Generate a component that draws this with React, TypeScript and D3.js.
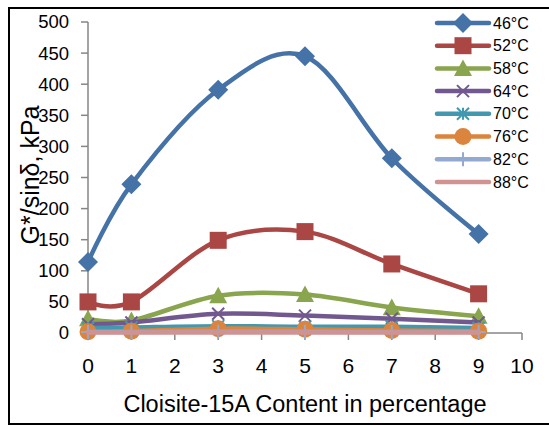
import React from "react";
import * as d3 from "d3";

const xValues = [0, 1, 3, 5, 7, 9];
const seriesNames = ["46°C", "52°C", "58°C", "64°C", "70°C", "76°C", "82°C", "88°C"];
const s46 = [114, 239, 391, 445, 281, 159];
const s52 = [50, 50, 149, 163, 111, 63];
const s58 = [23, 20, 60, 62, 41, 27];
const s64 = [14, 17, 31, 28, 23, 17];
const s70 = [8, 9, 11, 10, 10, 8];
const s76 = [2, 3, 7, 6, 4, 3];
const s82 = [1.5, 1.5, 2, 2, 1.5, 1.5];
const s88 = [1, 1, 1, 1, 1, 1];
const seriesData = [s46, s52, s58, s64, s70, s76, s82, s88];
const colors = ["#4572A7", "#AA4643", "#89A54E", "#71588F", "#4198AF", "#DB843D", "#93A9CF", "#D19392"];
const markers = ["diamond", "square", "triangle", "x", "star", "circle", "plus", "none"];
const xTicks = [0, 1, 2, 3, 4, 5, 6, 7, 8, 9, 10];
const yTicks = [0, 50, 100, 150, 200, 250, 300, 350, 400, 450, 500];

const FONT = "'Liberation Sans', Arial, sans-serif";

function Marker({ type, cx, cy, color }: { type: string; cx: number; cy: number; color: string }) {
  if (type === "diamond") {
    const r = 10;
    return <path d={`M${cx},${cy - r}L${cx + r},${cy}L${cx},${cy + r}L${cx - r},${cy}Z`} fill={color} />;
  }
  if (type === "square") {
    const r = 8.5;
    return <rect x={cx - r} y={cy - r} width={2 * r} height={2 * r} fill={color} />;
  }
  if (type === "triangle") {
    const r = 9;
    return <path d={`M${cx},${cy - r}L${cx + r},${cy + r * 0.85}L${cx - r},${cy + r * 0.85}Z`} fill={color} />;
  }
  if (type === "x") {
    const r = 6;
    return (
      <path d={`M${cx - r},${cy - r}L${cx + r},${cy + r}M${cx - r},${cy + r}L${cx + r},${cy - r}`} stroke={color} strokeWidth={2} />
    );
  }
  if (type === "star") {
    const r = 6;
    return (
      <path
        d={`M${cx - r},${cy - r}L${cx + r},${cy + r}M${cx - r},${cy + r}L${cx + r},${cy - r}M${cx},${cy - r}L${cx},${cy + r}`}
        stroke={color}
        strokeWidth={2}
      />
    );
  }
  if (type === "circle") {
    return <circle cx={cx} cy={cy} r={8.5} fill={color} />;
  }
  if (type === "plus") {
    const r = 7;
    return <path d={`M${cx - r},${cy}L${cx + r},${cy}M${cx},${cy - r}L${cx},${cy + r}`} stroke={color} strokeWidth={2} />;
  }
  return null;
}

export default function App() {
  const W = 549;
  const H = 426;
  const x = d3.scaleLinear().domain([0, 10]).range([88, 522]);
  const y = d3.scaleLinear().domain([0, 500]).range([333, 22]);
  const line = d3
    .line<[number, number]>()
    .x((d) => x(d[0]))
    .y((d) => y(d[1]))
    .curve(d3.curveCardinal.tension(0));

  const legendX1 = 437;
  const legendX2 = 489;
  const legendY0 = 23;
  const legendStep = 22.7;

  return (
    <svg width={W} height={H} style={{ position: "absolute", left: 0, top: 0 }}>
      <rect x={0} y={0} width={W} height={H} fill="#fff" />
      <rect x={9} y={8} width={600} height={416} fill="none" stroke="#000" strokeWidth={2} />
      {/* axes */}
      <line x1={x(0)} x2={x(0)} y1={y(500)} y2={y(0)} stroke="#868686" strokeWidth={1.5} />
      <line x1={x(0)} x2={x(10)} y1={y(0)} y2={y(0)} stroke="#868686" strokeWidth={1.5} />
      {yTicks.map((t) => (
        <g key={"y" + t}>
          <line x1={x(0) - 7} x2={x(0)} y1={y(t)} y2={y(t)} stroke="#868686" strokeWidth={1.5} />
          <text x={69} y={y(t)} dy="0.35em" textAnchor="end" fontFamily={FONT} fontSize={18.5} fill="#000">
            {t}
          </text>
        </g>
      ))}
      {xTicks.map((t) => (
        <g key={"x" + t}>
          <line x1={x(t)} x2={x(t)} y1={y(0)} y2={y(0) + 7} stroke="#868686" strokeWidth={1.5} />
          <text x={x(t)} y={373} textAnchor="middle" fontFamily={FONT} fontSize={21} fill="#000">
            {t}
          </text>
        </g>
      ))}
      <text x={305} y={412} textAnchor="middle" fontFamily={FONT} fontSize={23.5} fill="#000">
        Cloisite-15A Content in percentage
      </text>
      <text
        transform="translate(39,175) rotate(-90)"
        textAnchor="middle"
        fontFamily={FONT}
        fontSize={25}
        fill="#000"
      >
        G*/sinδ, kPa
      </text>
      {/* series */}
      {seriesData.map((vals, i) => {
        const pts: [number, number][] = xValues.map((xv, j) => [xv, vals[j]]);
        return (
          <g key={"s" + i}>
            <path d={line(pts) || ""} fill="none" stroke={colors[i]} strokeWidth={4.5} strokeLinecap="round" strokeLinejoin="round" />
            {pts.map((p, j) => (
              <Marker key={j} type={markers[i]} cx={x(p[0])} cy={y(p[1])} color={colors[i]} />
            ))}
          </g>
        );
      })}
      {/* legend */}
      {seriesNames.map((name, i) => {
        const ly = legendY0 + i * legendStep;
        return (
          <g key={"l" + i}>
            <line x1={legendX1} x2={legendX2} y1={ly} y2={ly} stroke={colors[i]} strokeWidth={4.5} strokeLinecap="round" />
            <Marker type={markers[i]} cx={(legendX1 + legendX2) / 2} cy={ly} color={colors[i]} />
            <text x={493} y={ly} dy="0.35em" fontFamily={FONT} fontSize={16} fill="#000">
              {name}
            </text>
          </g>
        );
      })}
    </svg>
  );
}
